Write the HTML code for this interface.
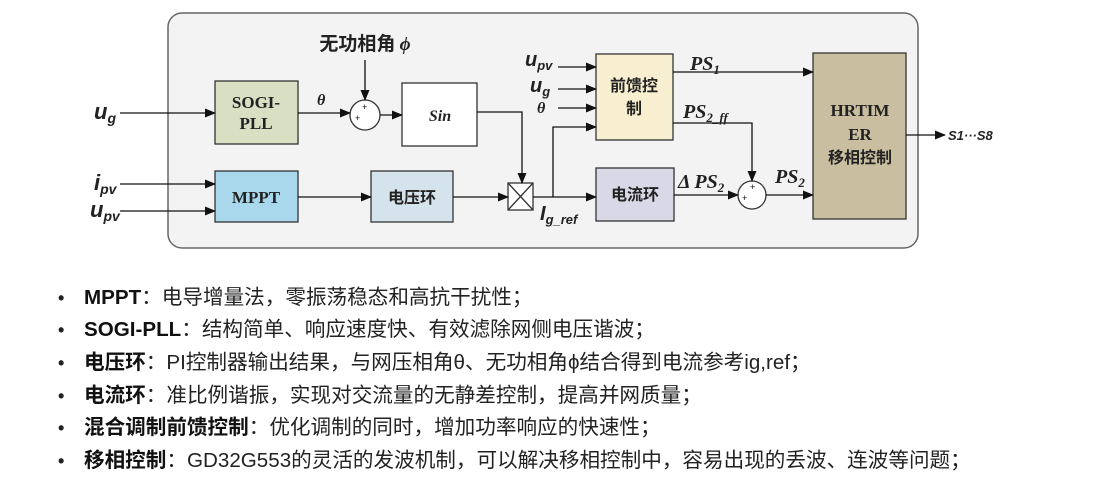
<!DOCTYPE html>
<html><head><meta charset="utf-8"><style>
body{margin:0;background:#fff;width:1104px;height:490px;overflow:hidden;position:relative;font-family:"Liberation Sans","Noto Sans CJK SC",sans-serif}
svg{position:absolute;left:0;top:0}
.b{position:absolute;left:58px;font-size:20.6px;color:#222;white-space:nowrap;line-height:24px}
.b:before{content:"•";position:absolute;left:0;font-size:18px;font-weight:bold}
.b span.t{margin-left:26px}
.b b{font-weight:bold;color:#111}
</style></head><body>
<svg width="1104" height="270" xmlns="http://www.w3.org/2000/svg" font-family="Liberation Serif, Noto Serif CJK SC, serif">
<defs><marker id="a" markerWidth="11" markerHeight="9" refX="10" refY="4.5" orient="auto" markerUnits="userSpaceOnUse"><path d="M0,0 L11,4.5 L0,9 Z" fill="#111"/></marker></defs>
<rect x="168" y="13" width="750" height="235" rx="14" fill="#f3f3f3" stroke="#666" stroke-width="1.5"/>
<g stroke="#333" stroke-width="1.3">
<rect x="215" y="81" width="83" height="63" fill="#d9dfc3"/>
<rect x="402" y="83" width="75" height="63" fill="#fff"/>
<rect x="215" y="171" width="83" height="51" fill="#a9d8ec"/>
<rect x="371" y="171" width="82" height="51" fill="#d4e3ec"/>
<rect x="596" y="54" width="77" height="86" fill="#f8efd0"/>
<rect x="596" y="168" width="78" height="53" fill="#d9d8e6"/>
<rect x="813" y="53" width="93" height="166" fill="#c9bfa0"/>
<circle cx="365" cy="115" r="15" fill="#fff"/>
<circle cx="752" cy="195" r="14" fill="#fff"/>
<rect x="508" y="183" width="25" height="27" fill="#fff"/>
<path d="M508,183 L533,210 M533,183 L508,210" />
</g>
<g stroke="#111" stroke-width="1.3" fill="none" marker-end="url(#a)">
<path d="M120,113 H215"/>
<path d="M120,184 H215"/>
<path d="M120,211 H215"/>
<path d="M298,113 H350"/>
<path d="M365,60 V100"/>
<path d="M380,115 H402"/>
<path d="M477,112 H522 V183"/>
<path d="M298,197 H371"/>
<path d="M453,197 H508"/>
<path d="M533,197 H596"/>
<path d="M553,197 V127 H596"/>
<path d="M558,67 H596"/>
<path d="M558,89 H596"/>
<path d="M558,108 H596"/>
<path d="M673,72 H813"/>
<path d="M673,123 H752 V181"/>
<path d="M674,195 H738"/>
<path d="M766,195 H813"/>
<path d="M906,135 H945"/>
</g>
<g font-size="9" fill="#111" font-family="Liberation Sans,sans-serif">
<text x="355" y="121">+</text><text x="362" y="110">+</text>
<text x="742" y="201">+</text><text x="750" y="190">+</text>
</g>
<g font-weight="bold" fill="#222" text-anchor="middle">
<text x="256" y="108" font-size="17">SOGI-</text>
<text x="256" y="129" font-size="17">PLL</text>
<text x="440" y="121" font-size="16" font-style="italic">Sin</text>
<text x="256" y="203" font-size="17">MPPT</text>
<text x="412" y="203" font-size="16" font-family="Noto Sans CJK SC,sans-serif">电压环</text>
<text x="634" y="91" font-size="16" font-family="Noto Sans CJK SC,sans-serif">前馈控</text>
<text x="634" y="114" font-size="16" font-family="Noto Sans CJK SC,sans-serif">制</text>
<text x="635" y="200" font-size="16" font-family="Noto Sans CJK SC,sans-serif">电流环</text>
<text x="860" y="116" font-size="17">HRTIM</text>
<text x="860" y="140" font-size="17">ER</text>
<text x="860" y="163" font-size="16" font-family="Noto Sans CJK SC,sans-serif">移相控制</text>
<text x="365" y="50" font-size="19" font-family="Noto Sans CJK SC,sans-serif">无功相角 <tspan font-style="italic" font-family="Liberation Serif,serif">ϕ</tspan></text>
</g>
<g font-weight="bold" font-style="italic" fill="#222" font-family="Liberation Sans,sans-serif">
<text x="94" y="119" font-size="22">u<tspan font-size="14" dy="4">g</tspan></text>
<text x="94" y="190" font-size="22">i<tspan font-size="14" dy="4">pv</tspan></text>
<text x="90" y="217" font-size="22">u<tspan font-size="14" dy="4">pv</tspan></text>
<text x="317" y="105" font-size="16" font-family="Liberation Serif,serif">θ</text>
<text x="525" y="66" font-size="20">u<tspan font-size="13" dy="4">pv</tspan></text>
<text x="530" y="92" font-size="20">u<tspan font-size="13" dy="4">g</tspan></text>
<text x="537" y="113" font-size="16" font-family="Liberation Serif,serif">θ</text>
<text x="540" y="220" font-size="20">I<tspan font-size="13" dy="4">g_ref</tspan></text>
<text x="690" y="70" font-size="20" font-family="Liberation Serif,serif">PS<tspan font-size="13" dy="4">1</tspan></text>
<text x="683" y="118" font-size="20" font-family="Liberation Serif,serif">PS<tspan font-size="13" dy="4">2_ff</tspan></text>
<text x="678" y="188" font-size="20" font-family="Liberation Serif,serif">Δ PS<tspan font-size="13" dy="4">2</tspan></text>
<text x="775" y="183" font-size="20" font-family="Liberation Serif,serif">PS<tspan font-size="13" dy="4">2</tspan></text>
<text x="948" y="140" font-size="13">S1···S8</text>
</g>
</svg>
<div class="b" style="top:286px"><span class="t"><b>MPPT</b>：电导增量法，零振荡稳态和高抗干扰性；</span></div>
<div class="b" style="top:318px"><span class="t"><b>SOGI-PLL</b>：结构简单、响应速度快、有效滤除网侧电压谐波；</span></div>
<div class="b" style="top:351px"><span class="t"><b>电压环</b>：PI控制器输出结果，与网压相角θ、无功相角ϕ结合得到电流参考ig,ref；</span></div>
<div class="b" style="top:384px"><span class="t"><b>电流环</b>：准比例谐振，实现对交流量的无静差控制，提高并网质量；</span></div>
<div class="b" style="top:416px"><span class="t"><b>混合调制前馈控制</b>：优化调制的同时，增加功率响应的快速性；</span></div>
<div class="b" style="top:449px"><span class="t"><b>移相控制</b>：GD32G553的灵活的发波机制，可以解决移相控制中，容易出现的丢波、连波等问题；</span></div>
</body></html>
